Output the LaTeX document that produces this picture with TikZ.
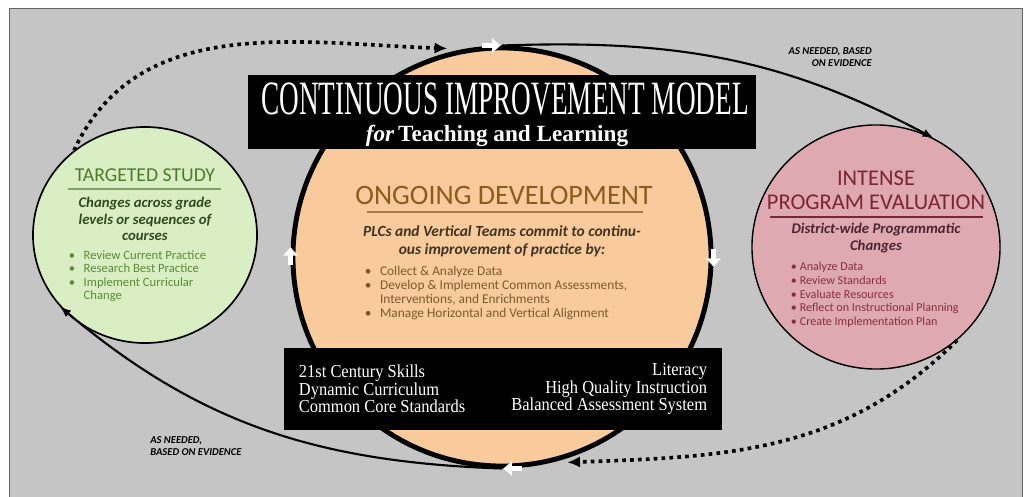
\documentclass[tikz,border=0pt]{standalone}
\usepackage{fontspec}
\setmainfont{Carlito}
\newfontfamily\titlefont{Liberation Serif}
\newfontfamily\basefont{Liberation Serif}[FakeStretch=0.9]
\usetikzlibrary{arrows.meta,shapes.geometric}

\definecolor{panelgray}{HTML}{C5C5C5}
\definecolor{studyfill}{HTML}{D9EFC3}
\definecolor{studyhead}{HTML}{4D7A2B}
\definecolor{studybody}{HTML}{2F4A1E}
\definecolor{studylist}{HTML}{5C8A3A}
\definecolor{ongofill}{HTML}{F9CB9C}
\definecolor{ongohead}{HTML}{8E5B1F}
\definecolor{ongobody}{HTML}{3E3425}
\definecolor{ongolist}{HTML}{7C5A2E}
\definecolor{evalfill}{HTML}{DFA9B1}
\definecolor{evalhead}{HTML}{7A2632}
\definecolor{evalbody}{HTML}{4A2530}
\definecolor{evallist}{HTML}{86303D}

\begin{document}
\begin{tikzpicture}[x=0.025cm,y=-0.025cm,
    blob/.style={draw,ellipse,inner sep=0pt},
    blackbox/.style={fill=black,inner sep=0pt},
    conn/.style={line width=1.5pt,-{Latex[length=8pt,width=6pt]}},
    dotconn/.style={line width=2.6pt,dash pattern=on 2.6pt off 3pt,-{Latex[length=9pt,width=8pt]}},
    wharrow/.style={white,line width=3.5pt,-{Triangle[length=6pt,width=10pt]}},
    remark/.style={font=\bfseries\itshape\fontsize{7.5}{8.5}\selectfont,inner sep=0pt}]

\useasboundingbox (0,0) rectangle (1025,496);
\draw[fill=panelgray,draw=gray!80!black] (9,8) rectangle (1022,497);

% the three stages
\node[blob,fill=studyfill,line width=1.2pt,minimum width=5.6cm,minimum height=5.4cm] (study) at (145,235) {};
\node[blob,fill=evalfill,line width=1pt,minimum width=6.2cm,minimum height=6.1cm] (eval) at (876,247) {};
\node[draw,circle,fill=ongofill,line width=3.5pt,inner sep=0pt,minimum size=10.45cm] (ongo) at (502,257) {};

% connectors
\draw[dotconn] (study.130) to[out=65,in=178] ([yshift=3pt]ongo.105);
\draw[conn] (ongo.north) to[out=2,in=152] (eval.62);
\draw[dotconn] (eval.-49) to[out=225,in=2] ([yshift=-3pt]ongo.-72);
\draw[conn] (ongo.south) to[out=178,in=-40] (study.220);
\node[remark,anchor=east,align=right] (need1) at (872,57) {AS NEEDED, BASED\\ON EVIDENCE};
\node[remark,anchor=west,align=left] (need2) at (150,446) {AS NEEDED,\\BASED ON EVIDENCE};

% white arrows round the circle
\draw[wharrow] ([xshift=-14pt]ongo.north) -- ([xshift=-1pt]ongo.north);
\draw[wharrow] ([yshift=6pt]ongo.east) -- ([yshift=-7pt]ongo.east);
\draw[wharrow] ([xshift=14pt]ongo.south) -- ([xshift=1pt]ongo.south);
\draw[wharrow] ([yshift=-6pt]ongo.west) -- ([yshift=7pt]ongo.west);

% title
\node[blackbox,minimum width=12.72cm,minimum height=1.83cm] (titlebox) at (502,112) {};
\node[text=white,font=\titlefont\fontsize{34}{34}\selectfont,inner sep=0pt] (title) at (505,99) {\scalebox{0.57}[1]{CONTINUOUS IMPROVEMENT MODEL}};
\node[text=white,font=\titlefont\bfseries\fontsize{16.5}{16.5}\selectfont,inner sep=0pt] (subtitle) at (497,136) {\textit{for}\,Teaching and Learning};

% targeted study
\node[font=\fontsize{14}{14}\selectfont,text=studyhead] (studyhd) at (145,175) {TARGETED STUDY};
\draw[studyhead!70,line width=0.8pt] (68,189) -- (221,189);
\node[text=studybody,align=center,font=\bfseries\itshape\fontsize{10.5}{11.6}\selectfont] (studysub) at (145,219) {Changes across grade\\levels or sequences of\\courses};
\node[text=studylist,anchor=west,align=left,font=\fontsize{9}{9.6}\selectfont] (studyli) at (64,276)
  {\textbullet\hspace{6pt}Review Current Practice\\
   \textbullet\hspace{6pt}Research Best Practice\\
   \textbullet\hspace{6pt}Implement Curricular\\
   \phantom{\textbullet}\hspace{6pt}Change};

% ongoing development
\node[font=\fontsize{20}{20}\selectfont,text=ongohead] (ongohd) at (504,195) {ONGOING DEVELOPMENT};
\draw[ongohead!80,line width=0.9pt] (367,212) -- (643,212);
\node[text=ongobody,align=center,font=\bfseries\itshape\fontsize{11}{12.8}\selectfont] (ongosub) at (502,241) {PLCs and Vertical Teams commit to continu-\\ous improvement of practice by:};
\node[text=ongolist,anchor=west,align=left,font=\fontsize{9.5}{9.9}\selectfont] (ongoli) at (360,293)
  {\textbullet\hspace{6pt}Collect \& Analyze Data\\
   \textbullet\hspace{6pt}Develop \& Implement Common Assessments,\\
   \phantom{\textbullet}\hspace{6pt}Interventions, and Enrichments\\
   \textbullet\hspace{6pt}Manage Horizontal and Vertical Alignment};

% program evaluation
\node[font=\fontsize{16}{17}\selectfont,text=evalhead,align=center] (evalhd) at (876,190) {INTENSE\\PROGRAM EVALUATION};
\draw[evalhead,line width=0.8pt] (770,217) -- (983,217);
\node[text=evalbody,align=center,font=\bfseries\itshape\fontsize{10.5}{11.6}\selectfont] (evalsub) at (876,238) {District-wide Programmatic\\Changes};
\node[text=evallist,anchor=west,align=left,font=\fontsize{8.6}{9.7}\selectfont] (evalli) at (786,295)
  {\textbullet\hspace{2pt}Analyze Data\\
   \textbullet\hspace{2pt}Review Standards\\
   \textbullet\hspace{2pt}Evaluate Resources\\
   \textbullet\hspace{2pt}Reflect on Instructional Planning\\
   \textbullet\hspace{2pt}Create Implementation Plan};

% foundations
\node[blackbox,minimum width=10.95cm,minimum height=2.05cm] (basebox) at (503,389) {};
\node[text=white,anchor=west,align=left,font=\basefont\fontsize{13}{12.6}\selectfont] (baseleft) at (294,389) {21st Century Skills\\Dynamic Curriculum\\Common Core Standards};
\node[text=white,anchor=east,align=right,font=\basefont\fontsize{13}{12.6}\selectfont] (baseright) at (712,389) {Literacy\\High Quality Instruction\\Balanced Assessment System};

\end{tikzpicture}
\end{document}
